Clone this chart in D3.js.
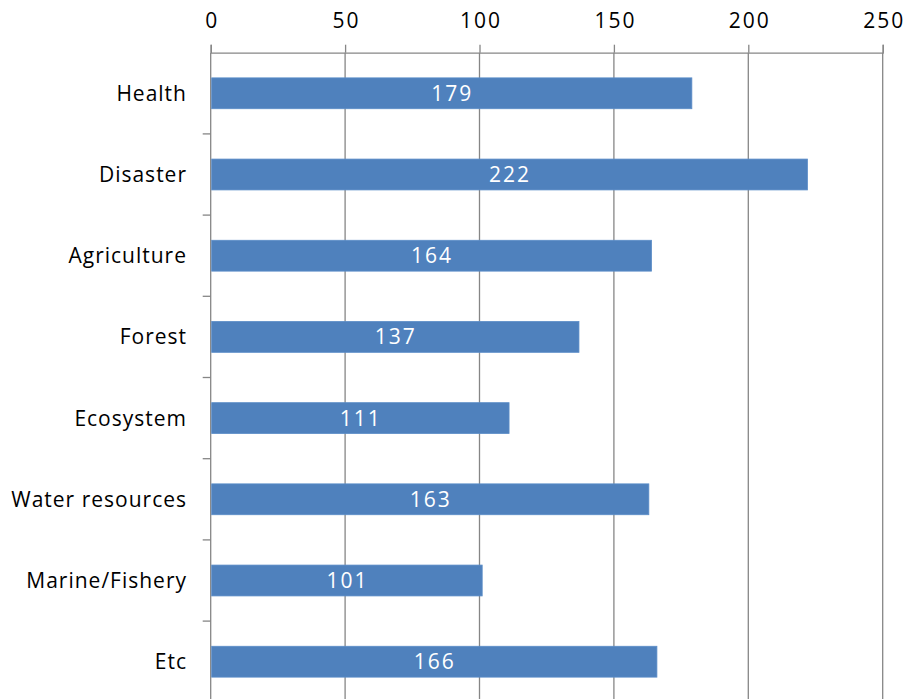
<!DOCTYPE html>
<html>
<head>
<meta charset="utf-8">
<script src="https://cdn.jsdelivr.net/npm/d3@7"></script>
<style>
  body { margin: 0; background: #fff; }
  text { font-family: "Open Sans", sans-serif; }
</style>
</head>
<body>
<div id="chart"></div>
<script>
const WIDTH = 904
const HEIGHT = 699
const categories = ["Health", "Disaster", "Agriculture", "Forest", "Ecosystem", "Water resources", "Marine/Fishery", "Etc"]
const values = [179, 222, 164, 137, 111, 163, 101, 166]
const ticks = [0, 50, 100, 150, 200, 250]

const margin = {top: 52.7, left: 210.7, right: 21.3}
const BAND = 81.2
const GRID = "#868686"
const FONT = "21px"

const svg = d3.select("#chart")
    .append("svg")
    .attr("width", WIDTH)
    .attr("height", HEIGHT)

const x = d3.scaleLinear()
    .domain([0, 250])
    .range([margin.left, WIDTH - margin.right])

const y = d3.scaleBand()
    .domain(categories)
    .range([margin.top, margin.top + BAND * categories.length])
    .paddingInner(0.62)
    .paddingOuter(0.31)

// vertical gridlines
svg.selectAll(".grid")
    .data(ticks.slice(1))
    .enter()
    .append("line")
    .attr("class", "grid")
    .attr("x1", d => x(d)).attr("x2", d => x(d))
    .attr("y1", margin.top).attr("y2", HEIGHT)
    .attr("stroke", GRID)
    .attr("stroke-width", 1.3)

// top axis
const xAxis = svg.append("g")
    .attr("transform", `translate(0,${margin.top})`)
    .call(d3.axisTop(x).tickValues(ticks).tickSize(8).tickPadding(17))
xAxis.select(".domain").attr("stroke", GRID).attr("stroke-width", 1.3)
xAxis.selectAll(".tick line").attr("stroke", GRID).attr("stroke-width", 1.3)
xAxis.selectAll(".tick text")
    .attr("fill", "#000")
    .attr("dx", "1")
    .style("font-size", FONT)
    .style("letter-spacing", "2px")
    .style("font-family", "'Open Sans', sans-serif")

// left axis: ticks between categories
const bounds = d3.range(1, categories.length + 1).map(i => margin.top + i * BAND)
svg.append("line")
    .attr("x1", x(0)).attr("x2", x(0))
    .attr("y1", margin.top).attr("y2", HEIGHT)
    .attr("stroke", GRID).attr("stroke-width", 1.3)
svg.selectAll(".ytick")
    .data(bounds)
    .enter()
    .append("line")
    .attr("class", "ytick")
    .attr("x1", x(0) - 8).attr("x2", x(0))
    .attr("y1", d => d).attr("y2", d => d)
    .attr("stroke", GRID).attr("stroke-width", 1.3)

svg.selectAll(".cat")
    .data(categories)
    .enter()
    .append("text")
    .attr("class", "cat")
    .attr("x", 187)
    .attr("y", d => y(d) + y.bandwidth() / 2)
    .attr("dy", "0.36em")
    .attr("text-anchor", "end")
    .style("font-size", FONT)
    .style("letter-spacing", "1px")
    .text(d => d)

const rows = categories.map((c, i) => ({c, v: values[i]}))

svg.selectAll(".bar")
    .data(rows)
    .enter()
    .append("rect")
    .attr("class", "bar")
    .attr("x", x(0) + 1)
    .attr("y", d => y(d.c))
    .attr("width", d => x(d.v) - x(0) - 1)
    .attr("height", y.bandwidth())
    .attr("fill", "#4F81BD")
    .attr("stroke", "#5B8DC8")
    .attr("stroke-width", 0.8)

svg.selectAll(".val")
    .data(rows)
    .enter()
    .append("text")
    .attr("class", "val")
    .attr("x", d => (x(0) + x(d.v)) / 2 + 1)
    .attr("y", d => y(d.c) + y.bandwidth() / 2)
    .attr("dy", "0.36em")
    .attr("text-anchor", "middle")
    .attr("fill", "#fff")
    .style("font-size", FONT)
    .style("letter-spacing", "2px")
    .text(d => d.v)
</script>
</body>
</html>
